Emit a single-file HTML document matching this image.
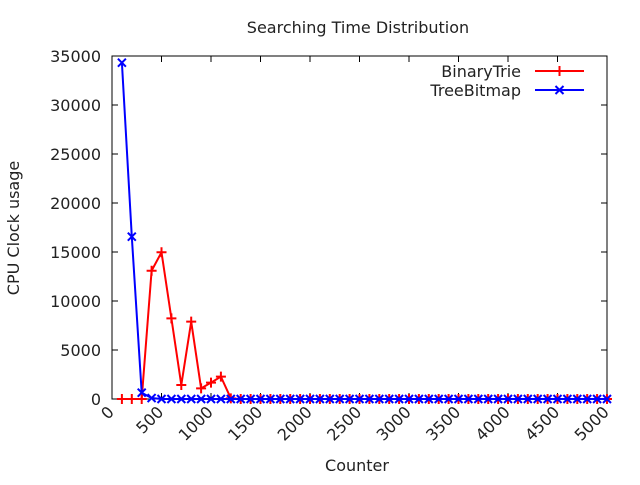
<!DOCTYPE html>
<html><head><meta charset="utf-8"><style>
body{margin:0;background:#fff}
svg text{font-family:"DejaVu Sans","Liberation Sans",sans-serif;font-size:16px;fill:#222}
</style></head><body>
<svg id="chart" width="640" height="480" xmlns="http://www.w3.org/2000/svg">
<text x="358" y="33" text-anchor="middle">Searching Time Distribution</text>
<text transform="translate(19,228) rotate(-90)" text-anchor="middle">CPU Clock usage</text>
<text x="357" y="471" text-anchor="middle">Counter</text>
<g id="axes"></g><g id="series"></g>
<g>
<text x="521" y="77" text-anchor="end">BinaryTrie</text>
<line x1="535" y1="71" x2="584" y2="71" stroke="#f00" stroke-width="2"/>
<path d="M559.5 66v10M554.5 71h10" stroke="#f00" stroke-width="2"/>
<text x="521" y="96" text-anchor="end">TreeBitmap</text>
<line x1="535" y1="90" x2="584" y2="90" stroke="#00f" stroke-width="2"/>
<path d="M555.5 86l8 8M563.5 86l-8 8" stroke="#00f" stroke-width="2"/>
</g>
</svg>
<script>
const xTicks=[0,500,1000,1500,2000,2500,3000,3500,4000,4500,5000];
const yTicks=[0,5000,10000,15000,20000,25000,30000,35000];
const binaryTrie=[0,0,0,13090,14970,8230,1430,7890,1090,1670,2280,70];
const treeBitmap=[34320,16560,640,100];
const nPoints=50;
const NS="http://www.w3.org/2000/svg";
const L=112,R=607,T=56,B=399;
const sx=v=>L+(v/5000)*(R-L), sy=v=>B-(v/35000)*(B-T);
function el(t,a,p){const e=document.createElementNS(NS,t);for(const k in a)e.setAttribute(k,a[k]);p.appendChild(e);return e;}
const ax=document.getElementById('axes'), sr=document.getElementById('series');
const frame=el('rect',{x:L,y:T,width:R-L,height:B-T,fill:'none',stroke:'#000','stroke-width':1},ax);


yTicks.forEach(v=>{const y=sy(v);
el('path',{d:`M${L} ${y}h6M${R} ${y}h-6`,stroke:'#000'},ax);
const t=el('text',{x:L-11,y:y+6,'text-anchor':'end'},ax);t.textContent=v;

});
xTicks.forEach(v=>{const x=sx(v);
el('path',{d:`M${x} ${B}v-6M${x} ${T}v6`,stroke:'#000'},ax);
const t=el('text',{x:x+3,y:B+14,'text-anchor':'end',transform:`rotate(-45 ${x+3} ${B+14})`},ax);t.textContent=v;

});
function full(arr){const o=[];for(let i=0;i<nPoints;i++)o.push(i<arr.length?arr[i]:0);return o;}
function draw(arr,color,mark,name){
const vals=full(arr);const pts=vals.map((v,i)=>[sx((i+1)*100),sy(v)]);
const pl=el('polyline',{points:pts.map(p=>p.join(',')).join(' '),fill:'none',stroke:color,'stroke-width':2},sr);


pts.forEach(([x,y])=>{const d=mark==='+'?`M${x} ${y-5}v10M${x-5} ${y}h10`:`M${x-4} ${y-4}l8 8M${x+4} ${y-4}l-8 8`;
const m=el('path',{d,stroke:color,'stroke-width':2},sr);

});}
draw(binaryTrie,'#f00','+','binarytrie');
draw(treeBitmap,'#00f','x','treebitmap');
</script>
</body></html>
